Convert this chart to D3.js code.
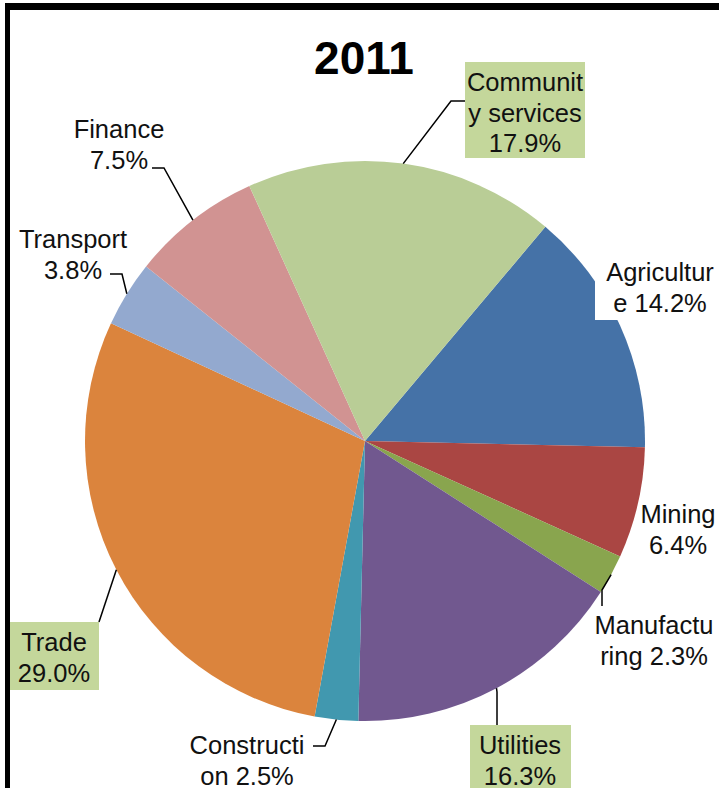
<!DOCTYPE html>
<html>
<head>
<meta charset="utf-8">
<script src="https://cdn.jsdelivr.net/npm/d3@7"></script>
<style>
  html, body { margin: 0; padding: 0; background: #fff; }
  svg { display: block; font-family: "Liberation Sans", Arial, sans-serif; }
</style>
</head>
<body>
<svg id="chart" width="719" height="788"></svg>
<script>
// Sector shares of output, 2011 (percent)
const title = "2011";
const categories = ["Agriculture", "Mining", "Manufacturing", "Utilities", "Construction",
                    "Trade", "Transport", "Finance", "Community services"];
const values = [14.2, 6.4, 2.3, 16.3, 2.5, 29.0, 3.8, 7.5, 17.9];
// Label text as wrapped in the chart (category part split over lines)
const labelLines = [
  ["Agricultur", "e 14.2%"],
  ["Mining", "6.4%"],
  ["Manufactu", "ring 2.3%"],
  ["Utilities", "16.3%"],
  ["Constructi", "on 2.5%"],
  ["Trade", "29.0%"],
  ["Transport", "3.8%"],
  ["Finance", "7.5%"],
  ["Communit", "y services", "17.9%"]
];
const colors = ["#4572A7", "#AA4643", "#89A54E", "#71588F", "#4198AF",
                "#DB843D", "#93A9CF", "#D19392", "#B9CD96"];

// Label placement: text centre x, first baseline y, optional box and leader route
const labelLayout = {
  "Agriculture":        { x: 660, y: 281, box: [595, 256, 130, 64], boxFill: "#fff" },
  "Mining":             { x: 678, y: 523 },
  "Manufacturing":      { x: 654, y: 634, leader: [[602, 590], [602, 606]] },
  "Utilities":          { x: 520, y: 754, box: [470, 725, 101, 70], boxFill: "#C4D79B", leader: [[497, 692], [497, 725]] },
  "Construction":       { x: 247, y: 754, leader: [[325, 746], [313, 746]] },
  "Trade":              { x: 54,  y: 651, box: [10, 622, 89, 68], boxFill: "#C4D79B", leader: [[99, 622]] },
  "Transport":          { x: 73,  y: 248, leader: [[122, 274], [110, 274]] },
  "Finance":            { x: 119, y: 138, leader: [[164, 168], [152, 168]] },
  "Community services": { x: 525, y: 91,  box: [465, 62, 120, 96], boxFill: "#C4D79B", leader: [[451, 101], [465, 101]] }
};

const svg = d3.select("#chart");
const cx = 365, cy = 441, radius = 280;
const lineH = 30.5;

// Chart frame (left and top edges visible)
svg.append("line").attr("x1", 7.5).attr("x2", 7.5).attr("y1", 3).attr("y2", 788)
  .attr("stroke", "#000").attr("stroke-width", 5);
svg.append("line").attr("x1", 5).attr("x2", 719).attr("y1", 6.5).attr("y2", 6.5)
  .attr("stroke", "#000").attr("stroke-width", 7);

// Title
svg.append("text").attr("x", 364).attr("y", 74)
  .attr("text-anchor", "middle").attr("font-size", 46).attr("font-weight", "bold")
  .attr("fill", "#000").text(title);

const data = categories.map((c, i) => ({ name: c, value: values[i], lines: labelLines[i], color: colors[i] }));

const startDeg = 40.1;
const pie = d3.pie().value(d => d.value).sort(null)
  .startAngle(startDeg * Math.PI / 180)
  .endAngle((startDeg + 360) * Math.PI / 180);
const arcs = pie(data);
const arc = d3.arc().innerRadius(0).outerRadius(radius);

const g = svg.append("g").attr("transform", `translate(${cx},${cy})`);
g.selectAll("path.slice").data(arcs).join("path")
  .attr("class", "slice")
  .attr("d", arc)
  .attr("fill", d => d.data.color);

// Leader lines from slice edge mid-angle to the label
arcs.forEach(a => {
  const lay = labelLayout[a.data.name];
  if (!lay.leader) return;
  const mid = (a.startAngle + a.endAngle) / 2;
  const p0 = [cx + radius * Math.sin(mid), cy - radius * Math.cos(mid)];
  const pts = [p0, ...lay.leader];
  svg.append("path")
    .attr("d", d3.line()(pts))
    .attr("fill", "none").attr("stroke", "#000").attr("stroke-width", 1.5);
});

// Labels
arcs.forEach(a => {
  const lay = labelLayout[a.data.name];
  if (lay.box) {
    svg.append("rect").attr("x", lay.box[0]).attr("y", lay.box[1])
      .attr("width", lay.box[2]).attr("height", lay.box[3])
      .attr("fill", lay.boxFill);
  }
  const t = svg.append("text").attr("text-anchor", "middle")
    .attr("font-size", 25.5).attr("fill", "#111");
  a.data.lines.forEach((ln, i) => {
    t.append("tspan").attr("x", lay.x).attr("y", lay.y + i * lineH).text(ln);
  });
});
</script>
</body>
</html>
